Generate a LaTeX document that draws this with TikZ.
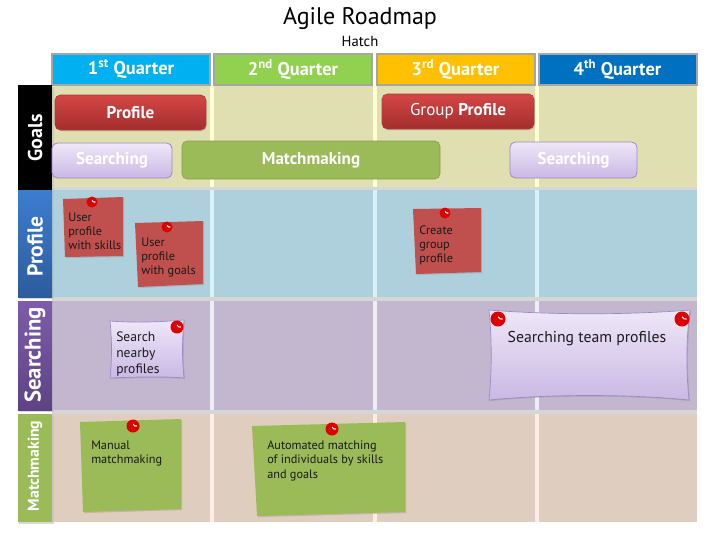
\documentclass[tikz,border=0pt]{standalone}
\usepackage{fontspec}
\setmainfont{PT Sans}
\usetikzlibrary{shadows,calc}
\definecolor{qone}{HTML}{00B0F0}
\definecolor{qtwo}{HTML}{92D050}
\definecolor{qthree}{HTML}{FFC000}
\definecolor{qfour}{HTML}{0070C0}
\definecolor{hdrgray}{HTML}{A6A6A6}
\definecolor{lanegoals}{HTML}{DFDFB2}
\definecolor{laneprof}{HTML}{ADD0DC}
\definecolor{lanesearch}{HTML}{C3B6CF}
\definecolor{lanematch}{HTML}{DFCDBF}
\definecolor{vgoals}{HTML}{FFFFD6}
\definecolor{vprof}{HTML}{D6F3FB}
\definecolor{vsearch}{HTML}{F0ECF4}
\definecolor{vmatch}{HTML}{FCEEE4}
\definecolor{sepgray}{HTML}{D6D6D6}
\definecolor{redtop}{HTML}{D44646}
\definecolor{redbot}{HTML}{A42D2D}
\definecolor{redborder}{HTML}{B23A3A}
\definecolor{lavtop}{HTML}{EEE7F8}
\definecolor{lavbot}{HTML}{CAB8E4}
\definecolor{lavborder}{HTML}{9E87C6}
\definecolor{greenbar}{HTML}{9BBB59}
\definecolor{greenborder}{HTML}{84A14A}
\definecolor{sticky}{HTML}{C0504D}
\definecolor{pinred}{HTML}{DD0000}
\definecolor{proftop}{HTML}{3D7DD0}
\definecolor{profbot}{HTML}{2C5C9C}
\definecolor{srchtop}{HTML}{7D5CAA}
\definecolor{srchbot}{HTML}{5D4384}
\definecolor{notetext}{HTML}{1A1A1A}
\tikzset{
  hdr/.style={draw=hdrgray, line width=1.5pt, minimum width=118.5pt, minimum height=23.25pt,
    text=white, font=\fontsize{13.8}{15}\selectfont\bfseries, inner sep=0pt},
  rowtxt/.style={rotate=90, text=white, font=\fontsize{15}{16}\selectfont\bfseries, inner sep=0pt},
  redbar/.style={rounded corners=4pt, draw=redborder, line width=0.5pt, top color=redtop, bottom color=redbot,
    text=white, font=\fontsize{12.8}{14}\selectfont\bfseries, inner sep=0pt,
    drop shadow={shadow xshift=0.8pt, shadow yshift=-1pt, opacity=0.25}},
  lavbar/.style={rounded corners=4pt, draw=lavborder, line width=0.6pt, top color=lavtop, bottom color=lavbot,
    text=white, font=\fontsize{12.8}{14}\selectfont\bfseries, inner sep=0pt},
  grnbar/.style={rounded corners=4pt, draw=greenborder, line width=0.5pt, fill=greenbar,
    text=white, font=\fontsize{12.8}{14}\selectfont\bfseries, inner sep=0pt},
  notebody/.style={drop shadow={shadow xshift=0.8pt, shadow yshift=-0.8pt, opacity=0.3}},
  ntext/.style={anchor=north west, inner sep=0pt, align=left, text=notetext, font=\fontsize{9.2}{10.5}\selectfont},
}
\newcommand{\drawpinat}[3]{% x, y, radius
  \fill[pinred] (#1,#2) circle[radius=#3*0.75pt];
  \draw[white, line width=0.9pt, line cap=round] ($(#1,#2)+(#3*0.05,-#3*0.25)$) arc[start angle=200, end angle=290, radius=#3*0.4*0.75pt];
}
\begin{document}
\begin{tikzpicture}[x=0.75pt,y=-0.75pt]
\useasboundingbox (0,0) rectangle (720,540);
\fill[white] (0,0) rectangle (720,540);

% title
\node[font=\fontsize{18}{20}\selectfont] (title) at (360,19) {Agile Roadmap};
\node[font=\fontsize{11}{12}\selectfont] (sub) at (360,41) {Hatch};

% lanes
\fill[lanegoals] (52,85) rectangle (697,187);
\fill[sepgray] (52,187) rectangle (697,190);
\fill[laneprof] (52,190) rectangle (697,297);
\fill[sepgray] (52,297) rectangle (697,301);
\fill[lanesearch] (52,301) rectangle (697,410);
\fill[sepgray] (52,410) rectangle (697,414);
\fill[lanematch] (52,414) rectangle (697,522);

% vertical column lines
\foreach \vx in {211.5,374.5,536.5}{
  \fill[vgoals] (\vx-2,85) rectangle (\vx+2,187);
  \fill[vprof] (\vx-2,190) rectangle (\vx+2,297);
  \fill[vsearch] (\vx-2,301) rectangle (\vx+2,410);
  \fill[vmatch] (\vx-2,414) rectangle (\vx+2,522);
}

% quarter headers
\node[hdr, fill=qone] (q1) at (131,69) {1\textsuperscript{st} Quarter};
\node[hdr, fill=qtwo] (q2) at (293,69) {2\textsuperscript{nd} Quarter};
\node[hdr, fill=qthree] (q3) at (455.5,69) {3\textsuperscript{rd} Quarter};
\node[hdr, fill=qfour] (q4) at (617.5,69) {4\textsuperscript{th} Quarter};

% row labels
\fill[black!25, opacity=0.6] (19,87) rectangle (54,193);
\fill[black] (18,85) rectangle (52,191);
\node[rowtxt] (lgoals) at (35,138) {Goals};
\fill[black!25, opacity=0.6] (19,192) rectangle (54,299);
\shade[top color=proftop, bottom color=profbot] (18,190) rectangle (52,297);
\node[rowtxt, font=\fontsize{16.2}{17}\selectfont\bfseries] (lprof) at (35,246.5) {Profile};
\fill[black!25, opacity=0.6] (19,303) rectangle (54,412);
\shade[top color=srchtop, bottom color=srchbot] (18,301) rectangle (52,410);
\node[rowtxt, font=\fontsize{17}{18}\selectfont\bfseries] (lsearch) at (35,355) {Searching};
\fill[black!25, opacity=0.6] (19,416) rectangle (54,524);
\fill[greenbar] (18,414) rectangle (52,522);
\node[rowtxt, font=\fontsize{11.8}{12}\selectfont\bfseries] (lmatch) at (35,466) {Matchmaking};

% goal bars
\node[redbar, minimum width=113.25pt, minimum height=26.25pt] (gprof) at (130.5,112.5) {Profile};
\node[redbar, minimum width=114pt, minimum height=26.25pt, font=\fontsize{12.8}{14}\selectfont] (ggroup) at (458,111.5) {Group \textbf{Profile}};
\node[lavbar, minimum width=90pt, minimum height=26.25pt] (gsearch1) at (112,160.5) {Searching};
\node[grnbar, minimum width=193.5pt, minimum height=28.5pt] (gmatch) at (311,160) {Matchmaking};
\node[lavbar, minimum width=95.25pt, minimum height=27pt] (gsearch2) at (573.5,160) {Searching};

% profile stickies
\fill[sticky, notebody] (63,199) -- (123,197) -- (123,256) -- (65,257) -- cycle;
\drawpinat{92}{202}{5.5}
\node[ntext] (n1) at (68,213) {User\\profile\\with skills};

\fill[sticky, notebody] (135,223) -- (203,221) -- (203,284) -- (138,287) -- cycle;
\drawpinat{167}{227}{5.5}
\node[ntext] (n2) at (141,238) {User\\profile\\with goals};

\fill[sticky, notebody] (413,209) -- (481,208) -- (481,272) -- (416,274) -- cycle;
\drawpinat{445}{213}{5.5}
\node[ntext] (n3) at (419,225) {Create\\group\\profile};

% searching stickies
\shade[top color=lavtop, bottom color=lavbot, draw=lavborder, line width=0.5pt, notebody]
  (110,321) .. controls (135,323) and (160,322) .. (184,320)
  .. controls (182,340) and (182,360) .. (184,378)
  .. controls (160,376) and (135,377) .. (110,378)
  .. controls (112,360) and (112,340) .. (110,321) -- cycle;
\drawpinat{177}{327}{6.5}
\node[ntext, font=\fontsize{10.2}{12}\selectfont] (n4) at (116,332) {Search\\nearby\\profiles};

\shade[top color=lavtop, bottom color=lavbot, draw=lavborder, line width=0.5pt, notebody]
  (489,310) .. controls (550,315) and (630,315) .. (690,310)
  .. controls (686,340) and (686,370) .. (689,400)
  .. controls (630,394) and (550,394) .. (489,400)
  .. controls (492,370) and (492,340) .. (489,310) -- cycle;
\drawpinat{498}{319}{7.5}
\drawpinat{682}{319}{7.5}
\node[font=\fontsize{11.8}{13}\selectfont, text=notetext, inner sep=0pt] (n5) at (587,339) {Searching team profiles};

% matchmaking stickies
\fill[greenbar, notebody] (80,422) -- (181,419) -- (181,509) -- (83,512) -- cycle;
\drawpinat{133}{426}{6.5}
\node[ntext] (n6) at (91,441) {Manual\\matchmaking};

\fill[greenbar, notebody] (252,426) -- (405,422) -- (405,512) -- (257,516) -- cycle;
\drawpinat{332}{429}{6.5}
\node[ntext] (n7) at (267,441) {Automated matching\\of individuals by skills\\and goals};
\end{tikzpicture}
\end{document}
